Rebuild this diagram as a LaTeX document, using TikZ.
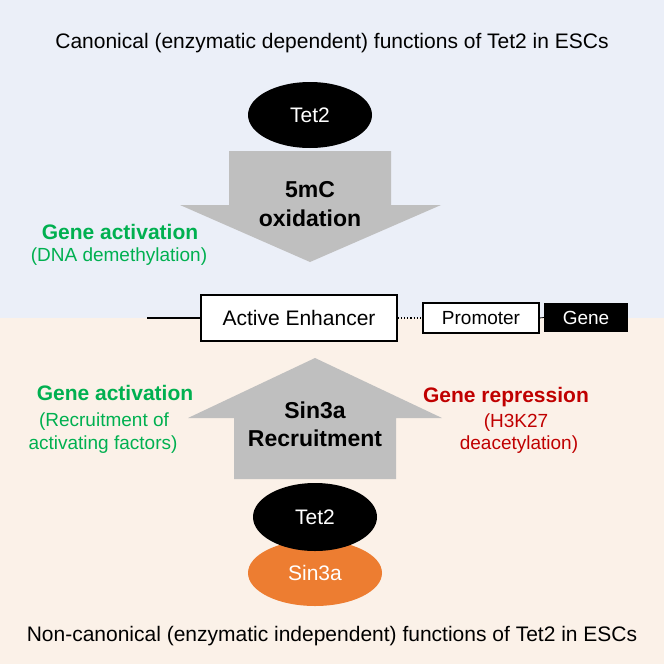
\documentclass[tikz,border=0pt]{standalone}
\usepackage{fontspec}
\setmainfont{Liberation Sans}
\usetikzlibrary{shapes.geometric}
\definecolor{topbg}{HTML}{EBEFF8}
\definecolor{botbg}{HTML}{FBF1E8}
\definecolor{arrgray}{HTML}{BFBFBF}
\definecolor{actgreen}{HTML}{00B050}
\definecolor{repred}{HTML}{C00000}
\definecolor{sinorange}{HTML}{ED7D31}
\newcommand{\fsz}[1]{\fontsize{#1}{#1}\selectfont}
\tikzset{
  lbl/.style={inner sep=0pt, anchor=center, font=\fsz{21}},
  arrtxt/.style={inner sep=0pt, anchor=center, font=\fsz{23}\bfseries, text=black},
  actbold/.style={inner sep=0pt, anchor=center, font=\fsz{21}\bfseries, text=actgreen},
  actsub/.style={inner sep=0pt, anchor=center, font=\fsz{19}, text=actgreen},
  repbold/.style={inner sep=0pt, anchor=center, font=\fsz{21}\bfseries, text=repred},
  repsub/.style={inner sep=0pt, anchor=center, font=\fsz{19}, text=repred},
  protein/.style={ellipse, inner sep=0pt, text=white, font=\fsz{21}},
  dnabox/.style={draw=black, line width=1.2pt, fill=white, inner sep=0pt, anchor=center},
  bigarrow/.style={fill=arrgray, draw=none},
}
\begin{document}
\begin{tikzpicture}[x=1pt, y=-1pt]
\useasboundingbox (0,0) rectangle (664,664);
% backgrounds
\fill[topbg] (0,0) rectangle (664,318);
\fill[botbg] (0,318) rectangle (664,664);

% titles
\node[lbl] (toptitle) at (332,43) {Canonical (enzymatic dependent) functions of Tet2 in ESCs};
\node[lbl] (bottitle) at (332,636) {Non-canonical (enzymatic independent) functions of Tet2 in ESCs};

% top: Tet2 and down arrow
\node[protein, fill=black, minimum width=124pt, minimum height=66pt] (tettop) at (310,115) {Tet2};
\fill[bigarrow] (229,151) -- (391,151) -- (391,205) -- (441,205) -- (310,262) -- (180,205) -- (229,205) -- cycle;
\node[arrtxt] (oxa) at (310,190) {5mC};
\node[arrtxt] (oxb) at (310,218) {oxidation};

\node[actbold] (actA) at (120,232) {Gene activation};
\node[actsub] (actAsub) at (119,257) {(DNA demethylation)};

% DNA line
\coordinate (lineL) at (147,318);
\node[dnabox, minimum width=196pt, minimum height=46pt, font=\fsz{21}] (enh) at (299,318) {Active Enhancer};
\node[dnabox, minimum width=116pt, minimum height=30pt, font=\fsz{19}] (prom) at (481,318) {Promoter};
\node[fill=black, text=white, inner sep=0pt, minimum width=84pt, minimum height=29pt, font=\fsz{19}] (gene) at (586,317.5) {Gene};
\draw[line width=1.2pt] (lineL) -- (enh.west);
\draw[line width=1.2pt, dotted] (enh.east) -- (prom.west);
\draw[line width=0.8pt] (prom.east) -- (gene.west);

% bottom: up arrow
\fill[bigarrow] (315,358) -- (442,418) -- (396,418) -- (396,479) -- (234,479) -- (234,418) -- (188,418) -- cycle;
\node[arrtxt] (recA) at (315,410) {Sin3a};
\node[arrtxt] (recB) at (315,438) {Recruitment};

\node[protein, fill=sinorange, minimum width=134pt, minimum height=66pt] (sin) at (315,573) {Sin3a};
\node[protein, fill=black, minimum width=124pt, minimum height=68pt] (tetbot) at (315,517) {Tet2};

\node[actbold] (actB) at (115,393) {Gene activation};
\node[actsub] (actBsub1) at (104,422) {(Recruitment of};
\node[actsub] (actBsub2) at (103,445) {activating factors)};

\node[repbold] (rep) at (506,397) {Gene repression};
\node[repsub] (repsub1) at (516,423) {(H3K27};
\node[repsub] (repsub2) at (519,445) {deacetylation)};
\end{tikzpicture}
\end{document}
